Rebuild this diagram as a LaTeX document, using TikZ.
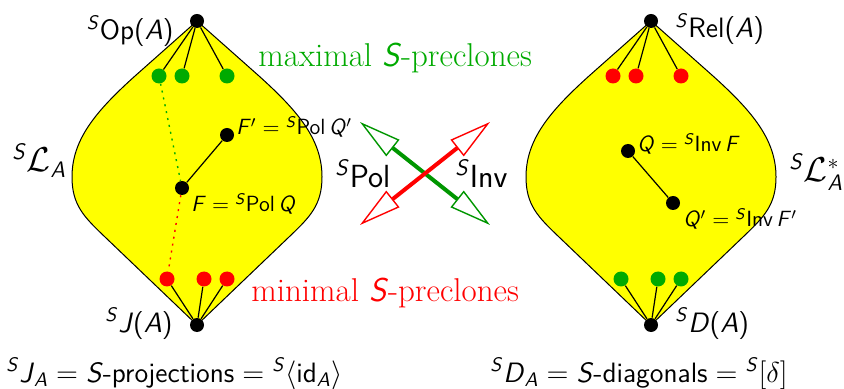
\documentclass[tikz,border=0pt]{standalone}
\usepackage{xcolor}
\usepackage{amsmath}
\usepackage{amssymb}
\usepackage{tikz}
\usetikzlibrary{arrows.meta,positioning}
\definecolor{precgreen}{RGB}{0,170,0}
\definecolor{arrowgreen}{RGB}{0,150,0}
\definecolor{precred}{RGB}{255,0,0}
\definecolor{latfill}{RGB}{255,255,0}
\newcommand{\sv}[1]{\textsf{\itshape #1}}
\newcommand{\pS}{\textsuperscript{\sv{S}}}

\begin{document}
\begin{tikzpicture}[
  x=0.5pt, y=-0.5pt,
  lattice/.style={draw, fill=latfill, line width=0.5pt},
  dot/.style={circle, fill, inner sep=0pt, minimum size=7pt},
  cdot/.style={circle, fill=#1, inner sep=0pt, minimum size=7.5pt},
  edge/.style={line width=0.6pt},
  chain/.style={#1, line width=0.7pt, dash pattern=on 1pt off 2.5pt},
  lbl/.style={font=\fontsize{14}{17}\selectfont\sffamily, inner sep=0pt},
  smalllbl/.style={font=\fontsize{11}{13}\selectfont\sffamily, inner sep=0pt},
  biglbl/.style={font=\fontsize{16}{19}\selectfont\sffamily, inner sep=0pt},
  latlbl/.style={font=\fontsize{16}{19}\selectfont\sffamily, inner sep=0pt},
  preclbl/.style={font=\fontsize{16.5}{19}\selectfont\rmfamily, inner sep=0pt},
  galois/.style={line width=2pt, arrows={Triangle[open, length=21pt, width=10.5pt, line width=0.7pt]-Triangle[open, length=21pt, width=10.5pt, line width=0.7pt]}},
]
  \useasboundingbox (0,0) rectangle (844,389);

  % the two lattices
  \foreach \cx in {197,651}
    \path[lattice] (\cx,21) -- (\cx-62,76) .. controls (\cx-102,112) and (\cx-125,140) .. (\cx-125,177)
      .. controls (\cx-125,205) and (\cx-113,217) .. (\cx-92,237) -- (\cx,325)
      -- (\cx+92,237) .. controls (\cx+113,217) and (\cx+125,205) .. (\cx+125,177)
      .. controls (\cx+125,140) and (\cx+102,112) .. (\cx+62,76) -- cycle;

  % left lattice: clones
  \node[dot] (opA) at (197,21) {};
  \node[dot] (jA) at (197,325) {};
  \node[cdot=precgreen] (mx1) at (159,76) {};
  \node[cdot=precgreen] (mx2) at (182,76) {};
  \node[cdot=precgreen] (mx3) at (227,76) {};
  \node[cdot=precred] (mn1) at (167,279) {};
  \node[cdot=precred] (mn2) at (204,279) {};
  \node[cdot=precred] (mn3) at (227,279) {};
  \node[dot] (fp) at (227,135) {};
  \node[dot] (f) at (182,188) {};
  \foreach \n in {mx1,mx2,mx3} \draw[edge] (opA) -- (\n);
  \foreach \n in {mn1,mn2,mn3} \draw[edge] (jA) -- (\n);
  \draw[edge] (f) -- (fp);
  \draw[chain=precgreen] (mx1) -- (f);
  \draw[chain=precred] (f) -- (mn1);

  % right lattice: relations
  \node[dot] (relA) at (651,21) {};
  \node[dot] (dA) at (651,325) {};
  \node[cdot=precred] (rt1) at (613,76) {};
  \node[cdot=precred] (rt2) at (636,76) {};
  \node[cdot=precred] (rt3) at (681,76) {};
  \node[cdot=precgreen] (rb1) at (621,279) {};
  \node[cdot=precgreen] (rb2) at (658,279) {};
  \node[cdot=precgreen] (rb3) at (681,279) {};
  \node[dot] (q) at (628,151) {};
  \node[dot] (qp) at (673,203) {};
  \foreach \n in {rt1,rt2,rt3} \draw[edge] (relA) -- (\n);
  \foreach \n in {rb1,rb2,rb3} \draw[edge] (dA) -- (\n);
  \draw[edge] (q) -- (qp);

  % labels
  \node[lbl, anchor=base east] (opAlbl) at (174,40) {\pS Op(\sv{A})};
  \node[lbl, anchor=base east] (jAlbl) at (173,332) {\pS\sv{J}(\sv{A})};
  \node[lbl, anchor=base west] (relAlbl) at (675,38) {\pS Rel(\sv{A})};
  \node[lbl, anchor=base west] (dAlbl) at (675,332) {\pS\sv{D}(\sv{A})};
  \node[latlbl, anchor=base west] (llbl) at (12,172) {\pS$\mathcal{L}_{\sv{A}}$};
  \node[latlbl, anchor=base west] (lstarlbl) at (789,182) {\pS$\mathcal{L}^{*}_{\sv{A}}$};
  \node[smalllbl, anchor=base west] (fplbl) at (236,135) {\sv{F}$'={}$\pS Pol\,\sv{Q}$'$};
  \node[smalllbl, anchor=base west] (flbl) at (191,212) {\sv{F}${}={}$\pS Pol\,\sv{Q}};
  \node[smalllbl, anchor=base west] (qlbl) at (637,152) {\sv{Q}${}={}$\pS Inv\,\sv{F}};
  \node[smalllbl, anchor=base west] (qplbl) at (683,227) {\sv{Q}$'={}$\pS Inv\,\sv{F}$'$};
  \node[preclbl, text=precgreen, anchor=base west] (maxlbl) at (258,67) {maximal \sv{S}-preclones};
  \node[preclbl, text=precred, anchor=base west] (minlbl) at (251,301) {minimal \sv{S}-preclones};
  \node[lbl, anchor=base west] (jdef) at (6,382) {\pS\sv{J}$_{\sv{A}}={}$\sv{S}-projections${}={}$\pS$\langle$id$_{\sv{A}}\rangle$};
  \node[lbl, anchor=base west] (ddef) at (490,382) {\pS\sv{D}$_{\sv{A}}={}$\sv{S}-diagonals${}={}$\pS$[\delta]$};

  % Pol / Inv
  \coordinate (gtail) at (360,122);
  \coordinate (ghead) at (490,225);
  \coordinate (rtail) at (360,225);
  \coordinate (rhead) at (490,122);
  \draw[galois, arrowgreen] (gtail) -- (ghead);
  \draw[galois, precred] (rtail) -- (rhead);
  \node[biglbl, anchor=base west] (pollbl) at (335,188) {\pS Pol};
  \node[biglbl, anchor=base west] (invlbl) at (455,188) {\pS Inv};
\end{tikzpicture}
\end{document}
